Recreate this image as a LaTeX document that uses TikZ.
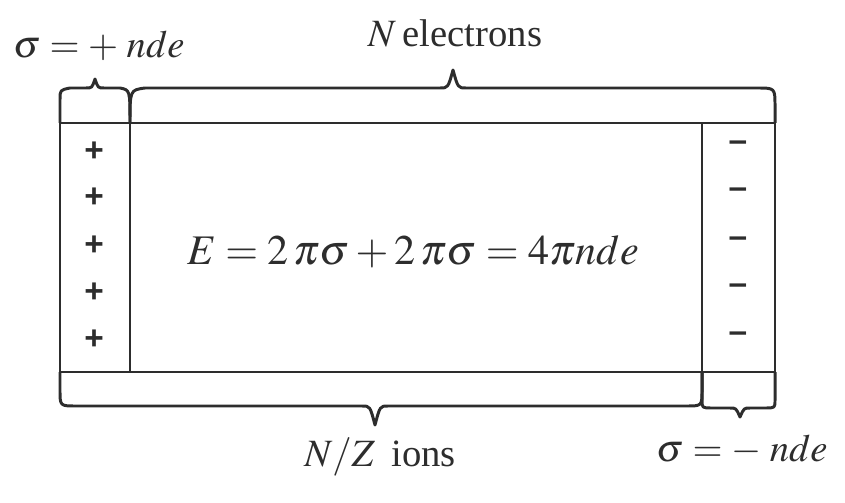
\documentclass[tikz,border=0pt]{standalone}
\usepackage{mathptmx}
\usepackage{fontspec}
\setmainfont{Liberation Serif}
\newfontfamily\chargefont{Liberation Sans}
\usepackage{tikz}
\usetikzlibrary{positioning, calc}
\definecolor{ink}{RGB}{45,45,45}

\begin{document}
\begin{tikzpicture}[x=0.02cm, y=-0.02cm,
  wall/.style={draw=ink, line width=1.4pt},
  brace/.style={draw=ink, line width=1.7pt, line join=round},
  charge/.style={font=\fontsize{19}{22}\chargefont\bfseries, text=ink},
  label/.style={font=\fontsize{22}{26}\selectfont, text=ink},
]
  \useasboundingbox (0,0) rectangle (845,503);

  % slab corners
  \coordinate (tl) at (60,123);
  \coordinate (tr) at (775,123);
  \coordinate (bl) at (60,372);
  \coordinate (br) at (775,372);
  \coordinate (pl) at (130,123);
  \coordinate (ml) at (702,123);

  % slab and the two charged layers
  \draw[wall] (tl) -- (tr) -- (br) -- (bl) -- cycle;
  \draw[wall] (pl) -- (pl |- bl);
  \draw[wall] (ml) -- (ml |- bl);

  \foreach \y in {152,198,246,293,340}
    \node[charge] at (94,\y) {+};
  \foreach \y in {146,193,242,289,337}
    \node[charge] at (738,\y) {\char"2013};

  % braces on top
  \draw[brace] (tl) -- (60,100) .. controls (60,90) .. (70,88) -- (86,88)
    .. controls (92,88) .. (95,79) .. controls (98,88) .. (104,88) -- (120,88)
    .. controls (130,90) .. (pl);
  \draw[brace] (pl) .. controls (130,90) .. (145,88) -- (440,88)
    .. controls (448,88) .. (453,70) .. controls (458,88) .. (466,88) -- (757,88)
    .. controls (775,88) .. (775,106) -- (tr);

  % braces below
  \draw[brace] (bl) -- (60,390) .. controls (60,406) .. (76,406) -- (362,406)
    .. controls (370,406) .. (375,425) .. controls (380,406) .. (388,406) -- (686,406)
    .. controls (702,406) .. (702,390) -- (ml |- bl);
  \draw[brace] (ml |- bl) -- (702,400) .. controls (702,408) .. (712,408) -- (730,408)
    .. controls (736,408) .. (740,417) .. controls (744,408) .. (750,408) -- (765,408)
    .. controls (775,408) .. (775,400) -- (br);

  % labels
  \node[label] (sigplus) at (99,46) {$\sigma = +\;nde$};
  \node[label] (nelec) at (455,33) {$N$\,electrons};
  \node[label] (nions) at (380,457) {$N/Z$\, ions};
  \node[label] (sigminus) at (742,450) {$\sigma = -\;nde$};
  \node[font=\fontsize{24}{28}\selectfont, text=ink] (field) at (413,252)
    {$E = 2\,\pi\sigma + 2\,\pi\sigma = 4\pi nde$};
\end{tikzpicture}
\end{document}
